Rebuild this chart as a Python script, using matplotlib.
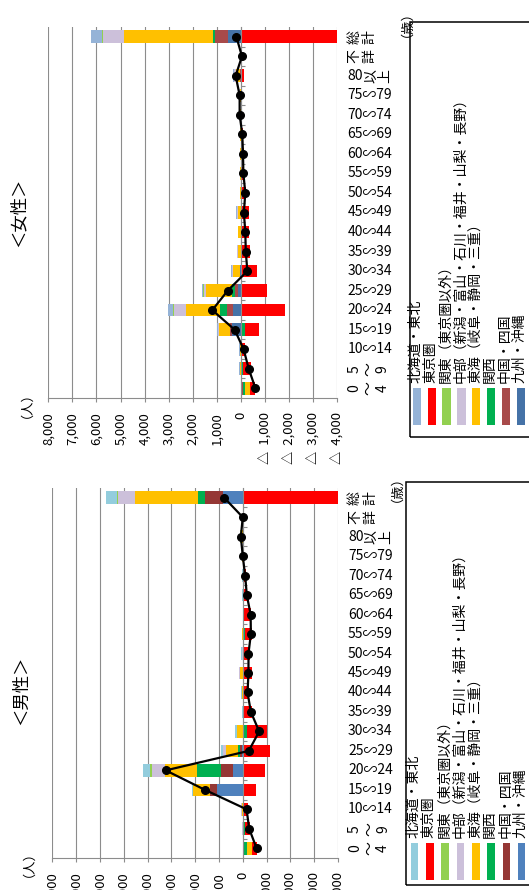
import numpy as np
import matplotlib.pyplot as plt
from matplotlib.patches import Rectangle
from matplotlib.transforms import blended_transform_factory

plt.rcParams['font.family'] = ['Noto Sans CJK JP', 'DejaVu Sans']

ages = ['0～4', '5～9', '10～14', '15～19', '20～24', '25～29', '30～34',
        '35～39', '40～44', '45～49', '50～54', '55～59', '60～64', '65～69',
        '70～74', '75～79', '80以上', '不詳', '総計']

regions = ['北海道・東北', '東京圏', '関東（東京圏以外）',
           '中部（新潟・富山・石川・福井・山梨・長野）',
           '東海（岐阜・静岡・三重）', '関西', '中国・四国', '九州・沖縄']

# 女性 (人), ages in the order above
f_hokkaido = [0, 20, 10, 30, 210, 70, 20, 20, 0, 30, 10, 0, 0, 0, 0, 5, 20, 0, 460]
f_tokyo = [-210, -300, -180, -580, -1840, -1080, -665, -380, -320, -320, -220,
           -130, -115, -85, -20, -25, -110, -40, -6030]
f_kanto = [0, 10, 10, 0, 40, 15, 10, 10, 0, 0, 0, 0, 0, 0, 10, 10, 30, 0, 30]
f_chubu = [0, 30, 30, 40, 510, 110, 55, 40, 10, 60, 10, 10, 10, 10, 20, 20, 60, 0, 860]
f_tokai = [-210, 20, 20, 485, 1410, 1065, 270, 110, 130, 110, 20, 20, 20, 20, 45,
           40, 180, 0, 3710]
f_kansai = [-100, -100, 0, -150, 280, 140, 10, 0, 0, 0, 0, 0, 0, 0, 0, 5, 20, 0, 95]
f_chugoku = [-80, 0, 0, 50, 250, 95, 15, 0, 0, 0, 0, 0, 0, 0, 0, 0, 10, 0, 510]
f_kyushu = [0, 0, 0, 390, 330, 135, 20, 0, 0, 0, 0, 0, 0, 0, 0, 0, 10, 0, 555]

# 男性 (人)
m_hokkaido = [0, 10, 10, 70, 280, 70, 60, 50, 20, 10, 60, 10, 0, 10, 10, 10, 20, 0, 450]
m_tokyo = [-180, -220, -240, -550, -940, -1150, -820, -390, -260, -390, -320,
           -300, -290, -190, -120, -40, -40, 0, -4960]
m_kanto = [0, 0, 10, 0, 70, 20, 0, 0, 0, 0, 0, 0, 0, 0, 0, 0, 10, 0, 70]
m_chubu = [0, 10, 30, 0, 560, 110, 0, 0, 10, 10, 10, 10, 0, 0, 0, 10, 30, 0, 700]
m_tokai = [-230, 10, 30, 700, 1360, 520, 250, 0, 30, 130, 10, 20, 0, 10, 10, 20,
           60, 0, 2620]
m_kansai = [-110, -80, 0, 0, 995, 80, -180, 0, 0, 0, 0, -80, 0, 0, 0, 0, 0, 0, 320]
m_chugoku = [-60, 0, 0, 280, 520, 50, 0, 0, 0, 0, 0, 0, 0, 0, 0, 0, 0, 0, 770]
m_kyushu = [0, 0, 0, 1090, 390, 50, 0, 0, 0, 0, 0, 0, -40, 0, 0, 0, 0, 0, 810]

female = [f_hokkaido, f_tokyo, f_kanto, f_chubu, f_tokai, f_kansai, f_chugoku, f_kyushu]
male = [m_hokkaido, m_tokyo, m_kanto, m_chubu, m_tokai, m_kansai, m_chugoku, m_kyushu]

f_colors = ['#95B3D7', '#FF0000', '#92D050', '#CCC0DA', '#FFC000', '#00B050',
            '#A84A4A', '#4572A7']
m_colors = ['#93CDDD', '#FF0000', '#92D050', '#CCC0DA', '#FFC000', '#00B050',
            '#953735', '#4F81BD']

GRID = '#8C8C8C'
W, H = 529, 890


def fx(px):
    return px / W


def fy(py):
    return 1 - py / H


def fmt(v):
    if v < 0:
        return '△  {:,}'.format(-v)
    return '{:,}'.format(v)


def draw_panel(ax, data, colors):
    y = np.arange(len(ages))
    pos = np.zeros(len(ages))
    neg = np.zeros(len(ages))
    # stacked outward from zero: 九州・沖縄 first, 北海道・東北 last
    for k in reversed(range(len(regions))):
        v = np.array(data[k], dtype=float)
        left = np.where(v >= 0, pos, neg)
        ax.barh(y, v, left=left, height=0.65, color=colors[k], zorder=2)
        pos += np.where(v >= 0, v, 0)
        neg += np.where(v < 0, v, 0)
    total = np.sum(np.array(data, dtype=float), axis=0)
    ax.plot(total, y, color='black', lw=1.6, marker='o', ms=5.5, zorder=4)

    ax.set_xlim(8000, -4000)
    ax.set_ylim(-0.5, len(ages) - 0.5)
    ticks = list(range(-4000, 8001, 1000))
    ax.set_xticks(ticks)
    ax.set_xticklabels([fmt(t) for t in ticks])
    ax.tick_params(axis='x', direction='out', length=3, color=GRID, width=0.8,
                   labelsize=9.5, rotation=90, pad=7)
    ax.grid(axis='x', color=GRID, lw=0.8, zorder=0)
    ax.set_axisbelow(True)

    ax.set_yticks([])
    ax.set_yticks(np.arange(0.5, len(ages) - 0.5, 1), minor=True)
    ax.tick_params(axis='y', which='minor', direction='in', length=3, width=0.8,
                   color=GRID, left=True, right=False, labelleft=False)
    for s in ['top', 'right']:
        ax.spines[s].set_visible(False)
    ax.spines['left'].set_position(('data', 0))
    ax.spines['left'].set_color(GRID)
    ax.spines['left'].set_linewidth(0.8)
    ax.spines['bottom'].set_color(GRID)
    ax.spines['bottom'].set_linewidth(0.8)

    # category labels on the right
    tr = blended_transform_factory(ax.transAxes, ax.transData)
    xpad = 1 + 10 / (ax.get_position().width * W)
    for i, lab in enumerate(ages):
        if lab in ('総計', '不詳'):
            ax.text(xpad, i, lab[0] + '\n' + lab[1], rotation=90, ha='left',
                    va='center', fontsize=10, linespacing=1.15, transform=tr)
        elif lab in ('0～4', '5～9'):
            ax.text(xpad, i, '\n'.join(lab), rotation=90, ha='left', va='center',
                    multialignment='center', fontsize=10, linespacing=1.0,
                    transform=tr)
        elif lab == '80以上':
            t = ax.text(xpad, i, '80', ha='left', va='center', fontsize=10,
                        transform=tr)
            ax.annotate('以\n上', xy=(1, 0.5), xycoords=t, xytext=(1, 0),
                        textcoords='offset points', rotation=90, ha='left',
                        va='center', fontsize=10, linespacing=1.0)
        else:
            ax.text(xpad, i, lab.replace('～', '∽'), ha='left', va='center',
                    fontsize=10, transform=tr)


def draw_legend(fig, colors, box, sw_left, sw_step, sw_w, sw_top, sw_bot):
    x0, y0, x1, y1 = box
    fig.add_artist(Rectangle((fx(x0), fy(y1)), fx(x1) - fx(x0), fy(y0) - fy(y1),
                             transform=fig.transFigure, fill=False,
                             edgecolor='black', lw=1.1))
    for k, name in enumerate(regions):
        xl = sw_left + k * sw_step
        fig.add_artist(Rectangle((fx(xl), fy(sw_bot)), sw_w / W,
                                 (sw_bot - sw_top) / H,
                                 transform=fig.transFigure,
                                 facecolor=colors[k], edgecolor='none'))
        fig.text(fx(xl + sw_w / 2 - 1), fy(sw_top - 5), name, rotation=90,
                 ha='center', va='bottom', fontsize=10)


fig = plt.figure(figsize=(W / 100, H / 100), dpi=100)

ax_f = fig.add_axes([fx(48.3), fy(398), (337.3 - 48.3) / W, (398 - 27) / H])
ax_m = fig.add_axes([fx(52.3), fy(858), (338 - 52.3) / W, (858 - 488) / H])

draw_panel(ax_f, female, f_colors)
draw_panel(ax_m, male, m_colors)

fig.text(fx(18.5), fy(212), '＜女性＞', rotation=90, ha='center', va='center',
         fontsize=12.5)
fig.text(fx(21), fy(690), '＜男性＞', rotation=90, ha='center', va='center',
         fontsize=12.5)
fig.text(fx(20), fy(398), '（人）', rotation=90, ha='center', va='center',
         fontsize=9.5)
fig.text(fx(22), fy(857), '（人）', rotation=90, ha='center', va='center',
         fontsize=9.5)
fig.text(fx(400), fy(17), '（歳）', rotation=90, ha='center', va='center',
         fontsize=9.5)
fig.text(fx(390), fy(482), '（歳）', rotation=90, ha='center', va='center',
         fontsize=9.5)

draw_legend(fig, f_colors, (410, 22, 540, 437), 412.7, 14.85, 8.3, 388, 425)
draw_legend(fig, m_colors, (406, 482, 540, 885), 410.7, 15.3, 7.6, 843, 880)

fig.savefig('out.png', dpi=100)
